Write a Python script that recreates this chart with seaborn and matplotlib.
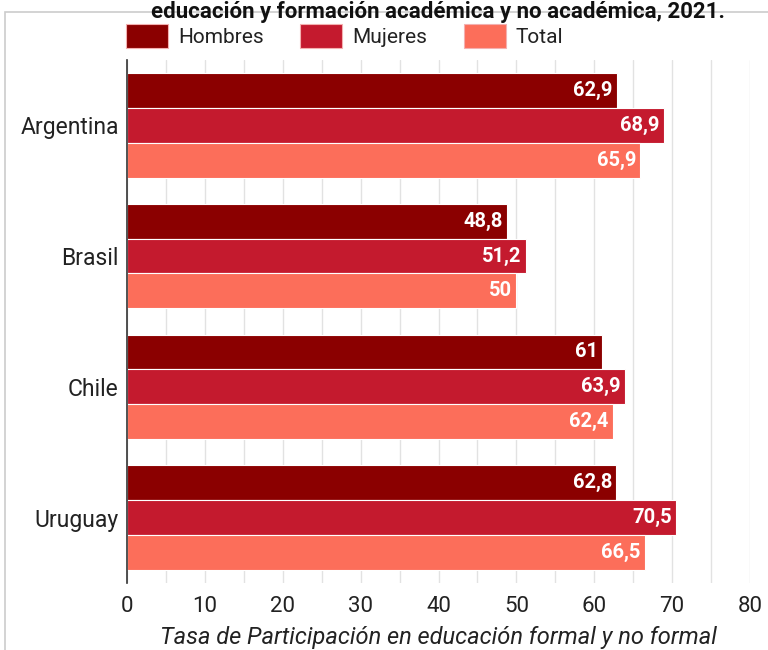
import matplotlib
matplotlib.use("Agg")
import matplotlib.pyplot as plt
import seaborn as sns
import pandas as pd
from matplotlib.ticker import MultipleLocator
from matplotlib.patches import Rectangle, Patch

paises = ["Argentina", "Brasil", "Chile", "Uruguay"]
series = ["Hombres", "Mujeres", "Total"]
hombres = [62.9, 48.8, 61.0, 62.8]
mujeres = [68.9, 51.2, 63.9, 70.5]
total = [65.9, 50.0, 62.4, 66.5]
colores = ["#8b0000", "#c41a2e", "#fc6e5a"]
titulo = "educación y formación académica y no académica, 2021."
xlabel = "Tasa de Participación en educación formal y no formal"

rows = []
for i, p in enumerate(paises):
    for s, vals in zip(series, [hombres, mujeres, total]):
        rows.append({"pais": p, "serie": s, "valor": vals[i]})
df = pd.DataFrame(rows)

sns.set_theme(style="white")
plt.rcParams["font.family"] = ["Roboto", "DejaVu Sans"]

fig = plt.figure(figsize=(7.68, 6.5), dpi=100)
ax = fig.add_axes([0.1654, 0.103, 0.8112, 0.805])

sns.barplot(data=df, y="pais", x="valor", hue="serie", palette=colores,
            orient="h", width=0.8, ax=ax, legend=False, errorbar=None,
            saturation=1, linewidth=0.8, edgecolor="white")

ax.set_xlim(0, 80)
ax.xaxis.set_major_locator(MultipleLocator(10))
ax.xaxis.set_minor_locator(MultipleLocator(5))
ax.grid(True, axis="x", which="both", color="#e2e2e2", linewidth=1)
ax.set_axisbelow(True)
for s in ["top", "right", "bottom"]:
    ax.spines[s].set_visible(False)
ax.spines["left"].set_color("#333333")
ax.spines["left"].set_linewidth(1.2)
ax.tick_params(axis="x", labelsize=16, colors="#222222", pad=9, length=0)
ax.tick_params(axis="y", labelsize=16.5, colors="#222222", pad=6, length=0)
ax.set_ylabel("")
ax.set_xlabel(xlabel, fontsize=17, style="italic", color="#222222", labelpad=7)

for cont in ax.containers:
    labels = [f"{v:g}".replace(".", ",") for v in cont.datavalues]
    texts = ax.bar_label(cont, labels=labels, label_type="edge", padding=-3,
                         color="white", fontsize=14.5, fontweight="bold")
    for t in texts:
        t.set_ha("right")

handles = [Patch(facecolor=c, edgecolor="#f3b0b0", linewidth=0.8) for c in colores]
fig.legend(handles, series, loc="center left", bbox_to_anchor=(0.140, 0.945),
           ncol=3, frameon=False, fontsize=15, handlelength=2.0, handleheight=1.4,
           columnspacing=1.75, handletextpad=0.5, labelcolor="#222222")

fig.text(0.57, 0.999, titulo, ha="center", va="top", fontsize=16,
         fontweight="bold", color="#111111")

fig.patches.append(Rectangle((0.007, -0.01), 1.1, 0.992, transform=fig.transFigure,
                             fill=False, edgecolor="#cccccc", linewidth=1.2))

fig.savefig("out.png", dpi=100)
